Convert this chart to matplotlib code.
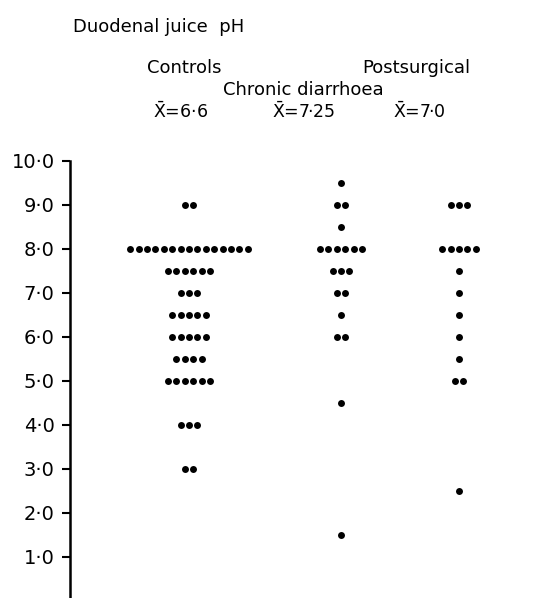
import numpy as np
import matplotlib.pyplot as plt

# duodenal juice pH, one row of dots per pH level
groups = ['Controls', 'Chronic diarrhoea', 'Postsurgical']
means = ['6·6', '7·25', '7·0']

controls_ph = [9.0, 8.0, 7.5, 7.0, 6.5, 6.0, 5.5, 5.0, 4.0, 3.0]
controls_n = [2, 15, 6, 3, 5, 5, 4, 6, 3, 2]

chronic_ph = [9.5, 9.0, 8.5, 8.0, 7.5, 7.0, 6.5, 6.0, 4.5, 1.5]
chronic_n = [1, 2, 1, 6, 3, 2, 1, 2, 1, 1]

post_ph = [9.0, 8.0, 7.5, 7.0, 6.5, 6.0, 5.5, 5.0, 2.5]
post_n = [3, 5, 1, 1, 1, 1, 1, 2, 1]

yticks = [1, 2, 3, 4, 5, 6, 7, 8, 9, 10]
ytick_labels = ['1·0', '2·0', '3·0', '4·0', '5·0', '6·0', '7·0', '8·0', '9·0', '10·0']

plt.rcParams['font.family'] = ['DejaVu Sans']
plt.rcParams['mathtext.fontset'] = 'dejavusans'

W, H = 542, 598
fig = plt.figure(figsize=(W / 100, H / 100), dpi=100)
ax = fig.add_axes([70 / W, 0, (W - 70) / W, 437 / H])

centers = [119, 271, 389]   # column centres, x in pixels from the axis
gap = 8.4                   # dot spacing

for c, ph, n in zip(centers, [controls_ph, chronic_ph, post_ph],
                    [controls_n, chronic_n, post_n]):
    for val, k in zip(ph, n):
        xs = c + (np.arange(k) - (k - 1) / 2) * gap
        ax.scatter(xs, np.full(k, val), s=25, color='black', linewidths=0)

ax.set_xlim(0, W - 70)
ax.set_ylim(10 - 437 / 44, 10)
ax.set_yticks(yticks)
ax.set_yticklabels(ytick_labels, fontsize=14)
ax.set_xticks([])
ax.tick_params(axis='y', direction='out', length=6, width=1.5, pad=5)
for side in ['top', 'right', 'bottom']:
    ax.spines[side].set_visible(False)
ax.spines['left'].set_linewidth(1.8)


def put(x, y, s, size=13):
    fig.text(x / W, 1 - y / H, s, fontsize=size, ha='left', va='baseline')


put(73, 32, 'Duodenal juice  pH')
put(147, 73, groups[0])
put(223, 95, groups[1])
put(362, 73, groups[2])
for x, m in zip([153, 272, 393], means):
    put(x, 118, r'$\bar{\mathrm{X}}$=' + m, size=12.5)

fig.savefig('out.png', dpi=100, facecolor='white')
